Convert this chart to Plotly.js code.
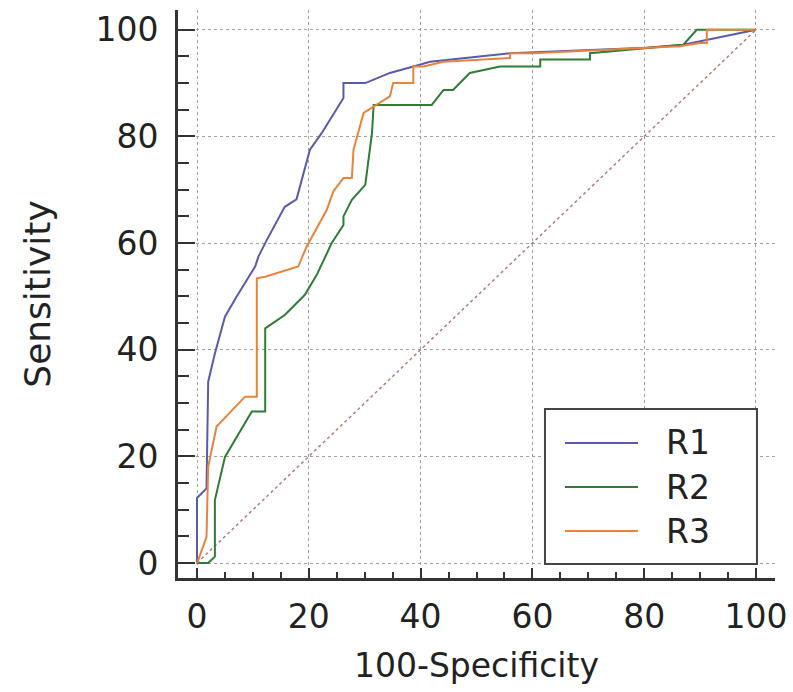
<!DOCTYPE html>
<html>
<head>
<meta charset="utf-8">
<script src="https://cdn.plot.ly/plotly-3.0.1.min.js"></script>
<style>html,body{margin:0;padding:0;background:#fff;}#chart{width:793px;height:692px;}</style>
</head>
<body>
<div id="chart"></div>
<script>
// R1 ROC curve (100-Specificity, Sensitivity)
var r1X = [0,0,1.7,2,3.2,5,7.1,10.4,11,12.5,15.7,17.8,20.2,22.3,26.2,26.2,30.1,34.5,38.7,41.7,56,80.4,87,100];
var r1Y = [0,12.2,14,34,39.3,46.2,50,55.6,57.5,60.6,66.8,68.2,77.5,80.6,87.2,90,90,91.9,93.1,94,95.6,96.6,97.2,100];
// R2
var r2X = [0,2,3.2,3.2,5,6.5,9.8,12.2,12.2,12.2,15.7,19.3,21.4,24.1,26.2,26.2,27.7,30.1,31.3,31.6,42,44.1,45.8,48.8,54.2,61.4,61.4,70.3,70.3,87,89.4,100];
var r2Y = [0,0,1.2,11.8,19.9,22.5,28.4,28.4,30.6,44,46.5,50.3,54,60,63.4,65,68.1,70.9,80.6,85.9,85.9,88.7,88.7,91.9,93.1,93.1,94.4,94.4,95.6,97.2,100,100];
// R3
var r3X = [0,0.2,1.7,2,3.5,8,8.6,10.7,10.7,12.2,18.1,19.6,23.2,24.4,26.2,27.7,28,29.8,31.6,34.5,35.1,38.7,38.7,40.5,44.1,56,56,60.1,86.4,90,91.2,91.2,100];
var r3Y = [0,0.5,4.9,18.1,25.6,30.6,31.2,31.2,53.4,53.7,55.6,59.3,66.2,69.7,72.2,72.2,77.5,84.4,85.6,87.5,90,90,93.1,93.1,94,94.7,95.6,95.6,96.9,97.5,97.5,100,100];
// reference diagonal
var diagX = [0,100];
var diagY = [0,100];

var seriesNames = ['R1','R2','R3'];
var seriesColors = ['#5a5aaa','#2f7d35','#e8833e'];
var tickVals = [0,20,40,60,80,100];
var tickText = ['0','20','40','60','80','100'];

var fam = 'DejaVu Sans, Liberation Sans, Arial, sans-serif';
var txtColor = '#222';

var traces = [
  {x: diagX, y: diagY, mode:'lines', line:{color:'#b07c7c', width:1.5, dash:'dot'}, showlegend:false, hoverinfo:'skip'},
  {x: r1X, y: r1Y, mode:'lines', name: seriesNames[0], line:{color:seriesColors[0], width:2}},
  {x: r2X, y: r2Y, mode:'lines', name: seriesNames[1], line:{color:seriesColors[1], width:2}},
  {x: r3X, y: r3Y, mode:'lines', name: seriesNames[2], line:{color:seriesColors[2], width:2}}
];

var axisCommon = {
  tickvals: tickVals, ticktext: tickText,
  showgrid: true, gridcolor:'#a0a0a0', gridwidth:1, griddash:'dot',
  zeroline:false, showline:true, linecolor:'#333', linewidth:3,
  ticks:'inside', tickcolor:'#333', tickwidth:2,
  tickfont: {family:fam, color:txtColor, size:33},
  automargin:false
};

// legend box drawn in paper coordinates
var legBox = {x0:0.6147, x1:0.9698, y0:0.0247, y1:0.2975};
var legRowsY = [0.2377, 0.1602, 0.0827];
var legLineX = [0.6482, 0.7705];
var legTextX = 0.8141;

var shapes = [{type:'rect', xref:'paper', yref:'paper', x0:legBox.x0, x1:legBox.x1, y0:legBox.y0, y1:legBox.y1,
  fillcolor:'#fff', line:{color:'#444', width:2}, layer:'above'}];
var annotations = [];
for (var i = 0; i < seriesNames.length; i++) {
  shapes.push({type:'line', xref:'paper', yref:'paper', x0:legLineX[0], x1:legLineX[1], y0:legRowsY[i], y1:legRowsY[i],
    line:{color:seriesColors[i], width:2}, layer:'above'});
  annotations.push({xref:'paper', yref:'paper', x:legTextX, y:legRowsY[i], xanchor:'left', yanchor:'middle',
    text:seriesNames[i], showarrow:false, font:{family:fam, color:txtColor, size:33}});
}

var layout = {
  width:793, height:692,
  margin:{l:178, r:18, t:10, b:114},
  paper_bgcolor:'#fff', plot_bgcolor:'#fff',
  font: {family:fam, color:txtColor},
  xaxis: Object.assign({}, axisCommon, {
    range:[-3.4,103.4], ticklen:10,
    minor:{dtick:5, tick0:0, ticks:'inside', ticklen:6, tickcolor:'#333', tickwidth:2, showgrid:false},
    ticklabelstandoff: 7,
    title:{text:'100-Specificity', font:{family:fam, color:txtColor, size:33}, standoff:20}
  }),
  yaxis: Object.assign({}, axisCommon, {
    range:[-2.8,103.7], ticklen:17,
    minor:{dtick:5, tick0:0, ticks:'inside', ticklen:11, tickcolor:'#333', tickwidth:2, showgrid:false},
    ticklabelstandoff: 10,
    title:{text:'Sensitivity', font:{family:fam, color:txtColor, size:36}, standoff:34}
  }),
  shapes: shapes,
  annotations: annotations,
  showlegend:false
};

Plotly.newPlot('chart', traces, layout, {staticPlot:true, displayModeBar:false});
</script>
</body>
</html>
